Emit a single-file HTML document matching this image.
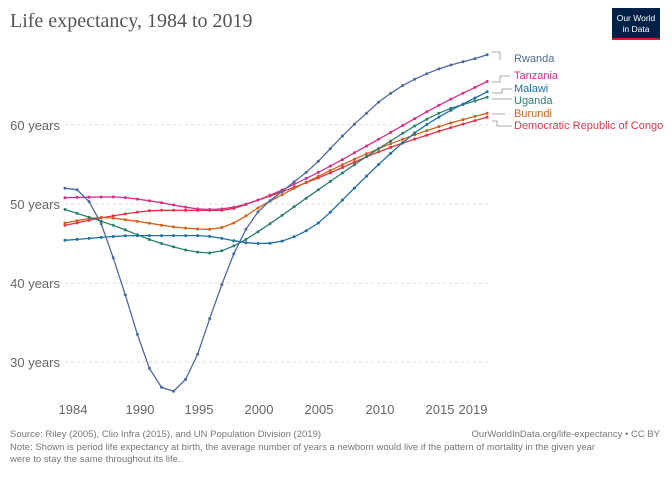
<!DOCTYPE html><html><head><meta charset="utf-8"><style>
body{margin:0;background:#fff;width:672px;height:474px;overflow:hidden;font-family:"Liberation Sans",sans-serif}
</style></head><body>
<svg width="672" height="474" xmlns="http://www.w3.org/2000/svg" id="s">
<text x="10" y="27" font-family="Liberation Serif,serif" font-size="20" fill="#555">Life expectancy, 1984 to 2019</text>
<rect x="612" y="8" width="48" height="32" fill="#002147"/>
<rect x="612" y="38" width="48" height="2" fill="#ce261e"/>
<text x="636" y="21" font-size="8.5" fill="#fff" text-anchor="middle">Our World</text>
<text x="636" y="32" font-size="8.5" fill="#fff" text-anchor="middle">in Data</text>
<g stroke="#ddd" stroke-dasharray="3,3">
<line x1="65" x2="490" y1="125" y2="125"/><line x1="65" x2="490" y1="204" y2="204"/><line x1="65" x2="490" y1="283" y2="283"/><line x1="65" x2="490" y1="362" y2="362"/></g>
<g font-size="13" fill="#666" text-anchor="end">
<text x="60" y="130">60 years</text><text x="60" y="209">50 years</text><text x="60" y="288">40 years</text><text x="60" y="367">30 years</text></g>
<g font-size="13" fill="#666" text-anchor="middle">
<text x="73" y="414">1984</text><text x="140" y="414">1990</text><text x="199" y="414">1995</text><text x="259" y="414">2000</text><text x="319" y="414">2005</text><text x="380" y="414">2010</text><text x="440" y="414">2015</text><text x="473" y="414">2019</text></g>
<g stroke="#aaa" fill="none" stroke-width="1">
<polyline points="492,52 500,52 500,60"/>
<polyline points="492,82 500,82 500,76 510,76"/>
<polyline points="492,93 502,93 502,89 512,89"/>
<polyline points="492,99 512,99"/>
<polyline points="492,114 505,114"/>
<polyline points="492,121 497,121 497,126 512,126"/>
</g>
<g font-size="11">
<text x="514" y="62" fill="#4c6a9c">Rwanda</text>
<text x="514" y="79" fill="#d62e8a">Tanzania</text>
<text x="514" y="92" fill="#1f6fa0">Malawi</text>
<text x="514" y="104" fill="#2a8070">Uganda</text>
<text x="514" y="117" fill="#d2601a">Burundi</text>
<text x="514" y="129" fill="#e03448">Democratic Republic of Congo</text>
</g>
<g font-size="9.5" fill="#777">
<text x="10" y="437">Source: Riley (2005), Clio Infra (2015), and UN Population Division (2019)</text>
<text x="660" y="437" text-anchor="end">OurWorldInData.org/life-expectancy • CC BY</text>
<text x="10" y="450">Note: Shown is period life expectancy at birth, the average number of years a newborn would live if the pattern of mortality in the given year</text>
<text x="10" y="462">were to stay the same throughout its life.</text>
</g>
<g id="d"></g>
</svg>
<script>
var S=[
["#e03448",[[1984,47.3],[1988,48.5],[1992,49.2],[1997,49.2],[2000,50.5],[2005,53.3],[2010,56.6],[2015,59.2],[2019,61]]],
["#d2601a",[[1984,47.6],[1987,48.3],[1990,47.8],[1993,47.1],[1996,46.8],[1998,47.6],[2000,49.5],[2005,53.5],[2010,57],[2015,59.8],[2019,61.5]]],
["#2a8070",[[1984,49.3],[1988,47.3],[1992,45],[1996,43.8],[1998,44.7],[2000,46.5],[2005,51.8],[2010,57],[2015,61.5],[2019,63.5]]],
["#1f6fa0",[[1984,45.4],[1990,46],[1995,46],[2000,45],[2002,45.3],[2005,47.6],[2007,50.5],[2010,55],[2013,59],[2015,61],[2019,64.2]]],
["#d62e8a",[[1984,50.8],[1988,50.9],[1991,50.4],[1996,49.3],[1998,49.6],[2000,50.5],[2005,54],[2010,58.2],[2015,62.5],[2019,65.5]]],
["#4c6a9c",[[1984,52],[1985,51.8],[1986,50.3],[1987,47.5],[1988,43.2],[1989,38.5],[1990,33.5],[1991,29.2],[1992,26.8],[1993,26.3],[1994,27.8],[1995,31],[1996,35.5],[1997,39.8],[1998,43.7],[1999,46.8],[2000,49],[2001,50.4],[2002,51.6],[2003,52.8],[2004,54],[2005,55.4],[2006,57],[2007,58.6],[2008,60.1],[2009,61.5],[2010,62.9],[2011,64],[2012,65],[2013,65.8],[2014,66.5],[2015,67.1],[2016,67.6],[2017,68],[2018,68.4],[2019,68.9]]]];
var g=document.getElementById('d'),h='';
function X(y){return 65+(y-1984)*12.06}function Y(v){return 125+(60-v)*7.9}
function interp(k){var n=k.length,d=[],m=[];for(var i=0;i<n-1;i++)d.push((k[i+1][1]-k[i][1])/(k[i+1][0]-k[i][0]));
m[0]=d[0];m[n-1]=d[n-2];for(i=1;i<n-1;i++){m[i]=(d[i-1]*d[i]<=0)?0:(d[i-1]+d[i])/2;}
var out=[];for(var yr=1984;yr<=2019;yr++){for(i=0;i<n-2&&k[i+1][0]<yr;i++);var x0=k[i][0],x1=k[i+1][0],hh=x1-x0,t=(yr-x0)/hh;
var t2=t*t,t3=t2*t;var v=(2*t3-3*t2+1)*k[i][1]+(t3-2*t2+t)*hh*m[i]+(-2*t3+3*t2)*k[i+1][1]+(t3-t2)*hh*m[i+1];out.push([X(yr),Y(v)]);}return out;}
S.forEach(function(s){var pts=interp(s[1]);
h+='<polyline fill="none" stroke="'+s[0]+'" stroke-width="1.3" points="'+pts.map(function(p){return p[0].toFixed(1)+','+p[1].toFixed(1)}).join(' ')+'"/>';
pts.forEach(function(p){h+='<circle cx="'+p[0].toFixed(1)+'" cy="'+p[1].toFixed(1)+'" r="1.5" fill="'+s[0]+'"/>'});});
g.innerHTML=h;
</script>
</body></html>
